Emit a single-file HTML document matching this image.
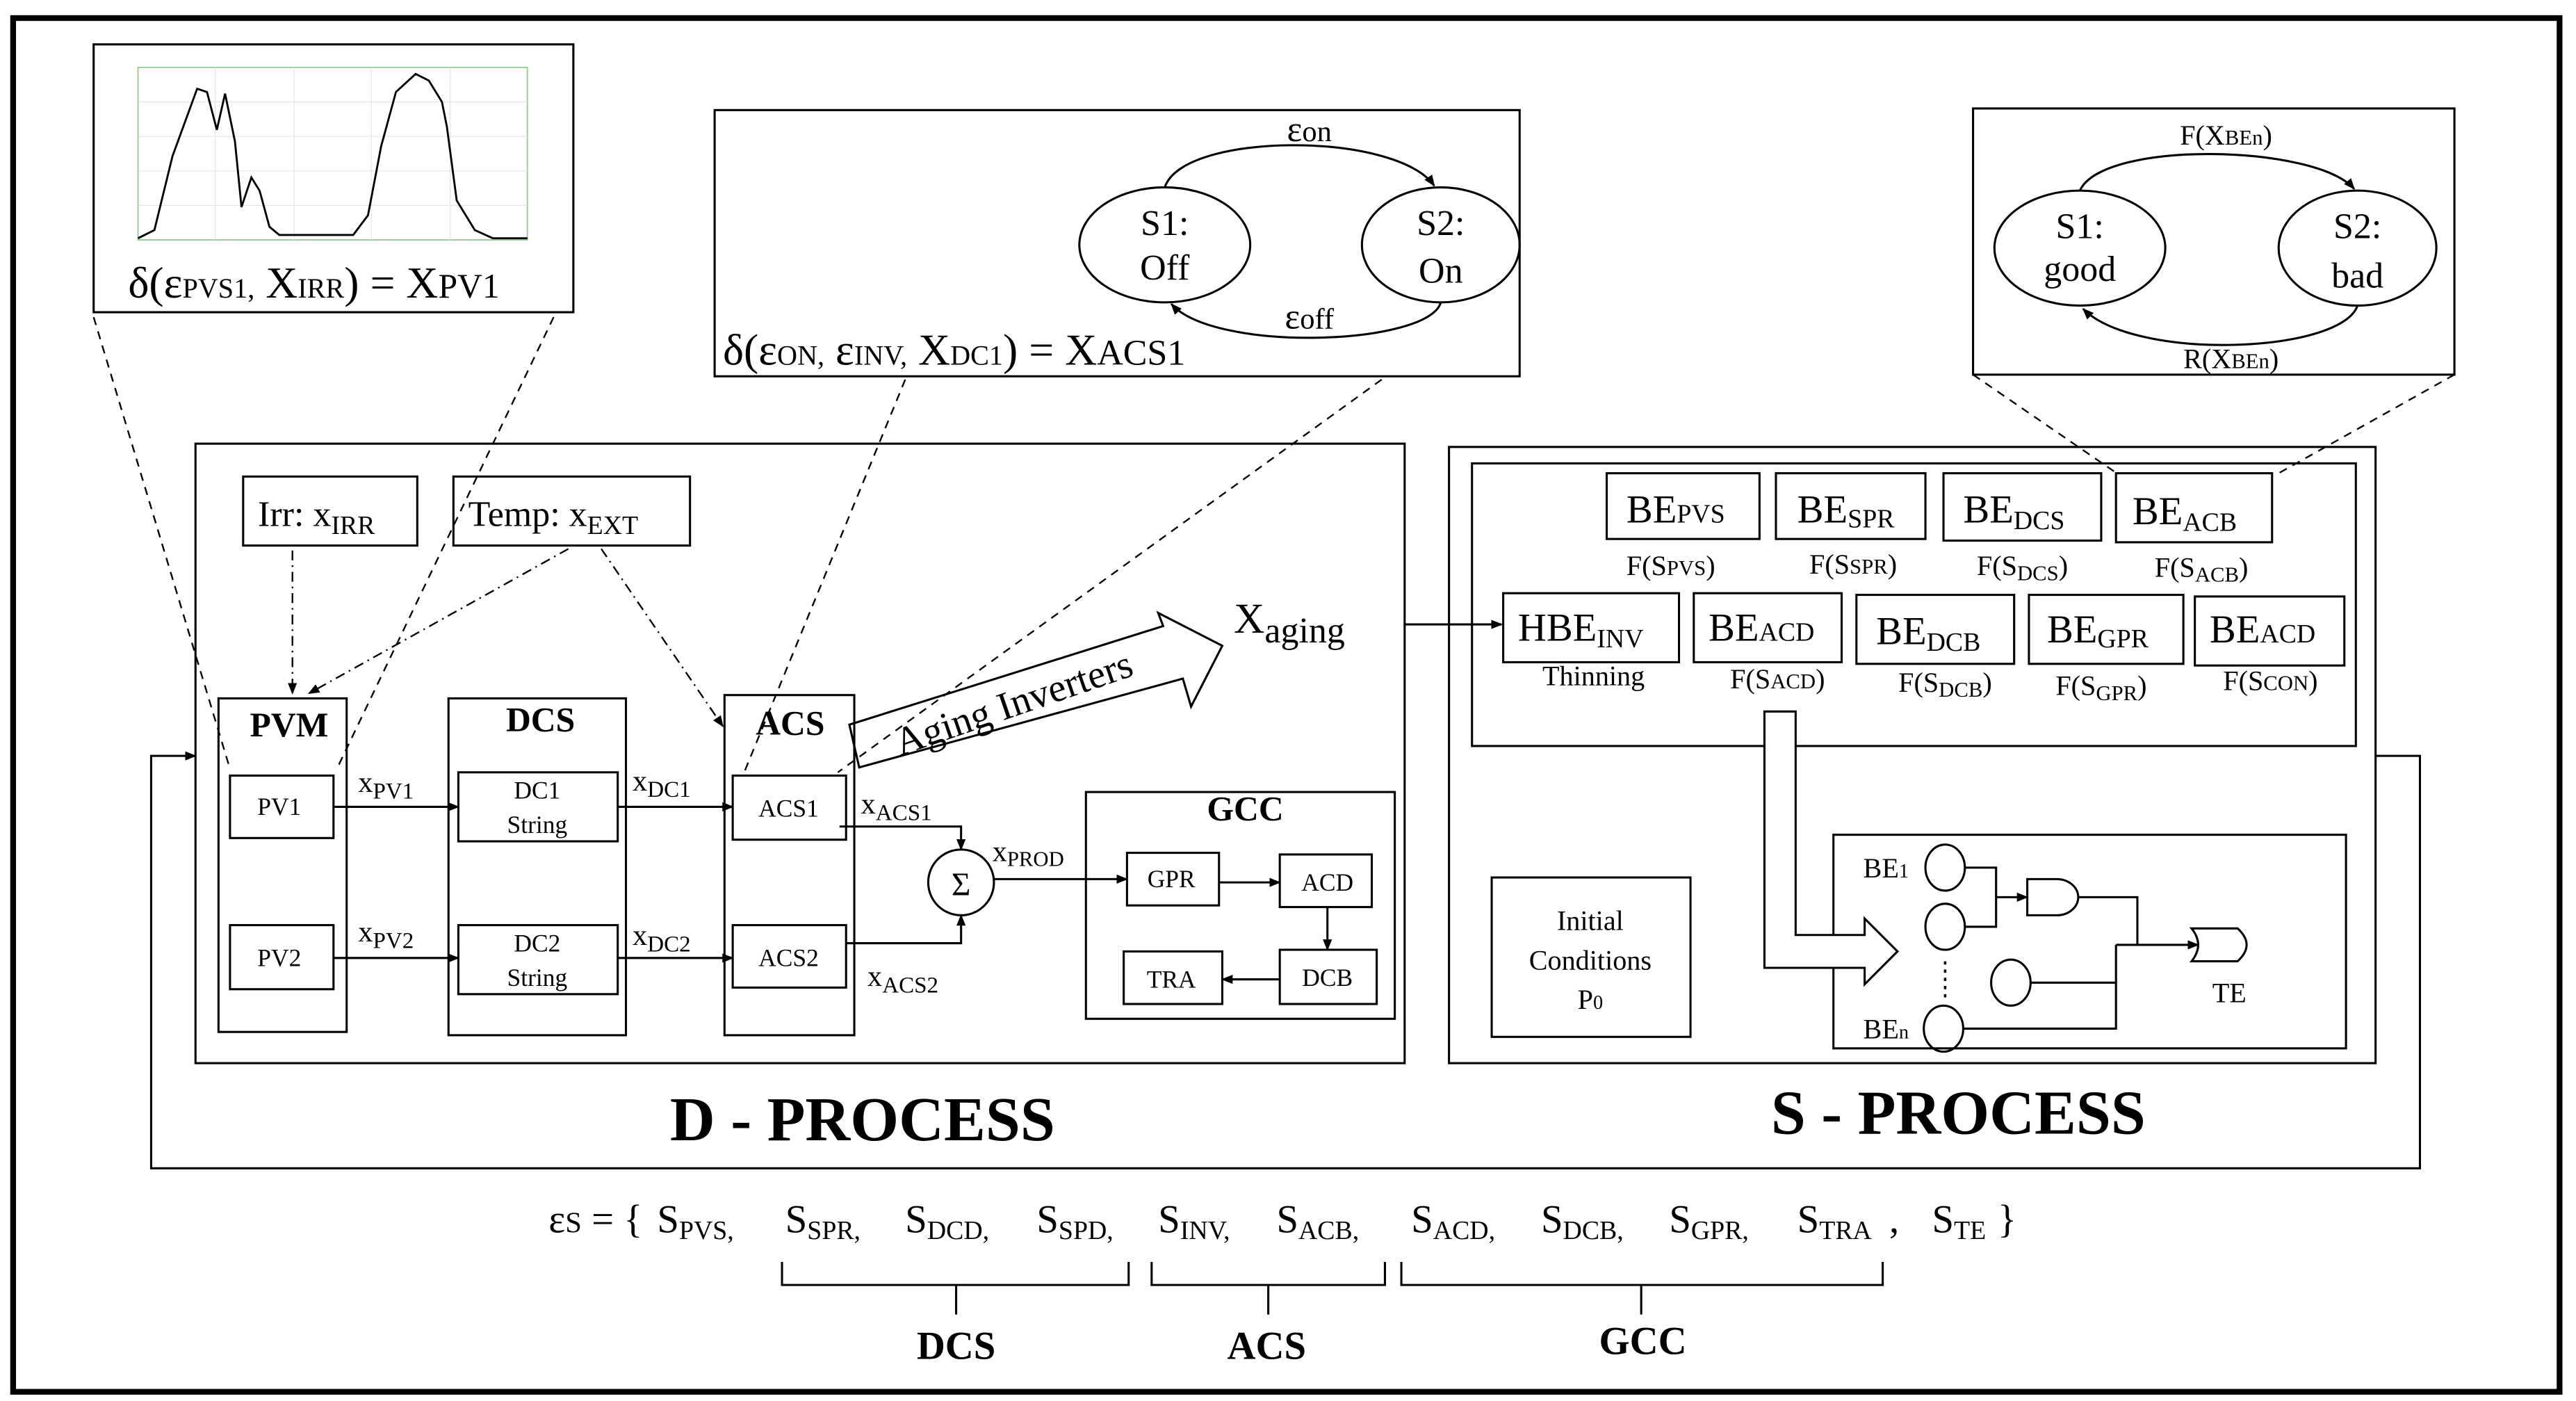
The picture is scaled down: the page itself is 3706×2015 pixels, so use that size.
<!DOCTYPE html>
<html><head><meta charset="utf-8"><style>
html,body{margin:0;padding:0;background:#fff;}
svg{display:block;}
text{font-family:"Liberation Serif","DejaVu Serif",serif;fill:#000;}
.b{font-weight:bold;}
</style></head><body>
<svg width="3706" height="2015" viewBox="0 0 1568 852.6" preserveAspectRatio="none" xmlns="http://www.w3.org/2000/svg" font-family="Liberation Serif, serif">
<defs>
<marker id="ar" viewBox="0 0 10 10" refX="9" refY="5" markerWidth="7" markerHeight="7" orient="auto-start-reverse" markerUnits="userSpaceOnUse"><path d="M0,1 L10,5 L0,9 z" fill="#000"/></marker>
</defs>
<g fill="none" stroke="#000" stroke-width="1.3">
<rect x="8" y="11" width="1550" height="836" stroke-width="3.5"/>
<rect x="57" y="27" width="292" height="163"/>
<rect x="84" y="41" width="237" height="105" stroke="#9c9" stroke-width="0.8"/>
<g stroke="#dde8dd" stroke-width="0.5">
<line x1="131" y1="41" x2="131" y2="146"/><line x1="179" y1="41" x2="179" y2="146"/><line x1="226" y1="41" x2="226" y2="146"/><line x1="274" y1="41" x2="274" y2="146"/>
<line x1="84" y1="62" x2="321" y2="62"/><line x1="84" y1="83" x2="321" y2="83"/><line x1="84" y1="104" x2="321" y2="104"/><line x1="84" y1="125" x2="321" y2="125"/>
</g>
<polyline points="84,145 94,140 105,95 120,54 126,56 132,79 137,57 143,86 147,126 153,108 158,116 164,138 170,143 215,143 224,131 232,89 241,56 253,45 261,49 269,62 272,77 278,122 289,140 300,145 321,145" stroke-width="1.2"/>
<rect x="435" y="67" width="490" height="162"/>
<ellipse cx="709" cy="149" rx="52" ry="35"/>
<ellipse cx="877" cy="149" rx="48" ry="35"/>
<path d="M709,114 C720,80 850,80 873,113" marker-end="url(#ar)"/>
<path d="M877,184 C870,210 740,215 713,185" marker-end="url(#ar)"/>
<rect x="1201" y="66" width="293" height="162"/>
<ellipse cx="1266" cy="151" rx="52" ry="35"/>
<ellipse cx="1435" cy="151" rx="48" ry="35"/>
<path d="M1266,116 C1280,85 1410,88 1433,115" marker-end="url(#ar)"/>
<path d="M1435,186 C1425,215 1300,220 1268,188" marker-end="url(#ar)"/>
<rect x="119" y="270" width="736" height="377"/>
<rect x="148" y="290" width="106" height="42"/>
<rect x="276" y="290" width="144" height="42"/>
<rect x="133" y="425" width="78" height="203"/>
<rect x="273" y="425" width="108" height="205"/>
<rect x="441" y="423" width="79" height="207"/>
<rect x="140" y="472" width="63" height="38"/>
<rect x="140" y="563" width="63" height="39"/>
<rect x="279" y="470" width="97" height="42"/>
<rect x="279" y="563" width="97" height="42"/>
<rect x="446" y="472" width="69" height="39"/>
<rect x="446" y="563" width="69" height="38"/>
<circle cx="585" cy="537" r="20"/>
<rect x="661" y="482" width="188" height="138"/>
<rect x="686" y="519" width="56" height="32"/>
<rect x="779" y="520" width="56" height="32"/>
<rect x="684" y="579" width="60" height="32"/>
<rect x="779" y="578" width="59" height="33"/>
<line x1="203" y1="491" x2="279" y2="491" marker-end="url(#ar)"/>
<line x1="203" y1="583" x2="279" y2="583" marker-end="url(#ar)"/>
<line x1="376" y1="491" x2="446" y2="491" marker-end="url(#ar)"/>
<line x1="376" y1="583" x2="446" y2="583" marker-end="url(#ar)"/>
<polyline points="511,503 585,503 585,517" marker-end="url(#ar)"/>
<polyline points="515,574 585,574 585,557" marker-end="url(#ar)"/>
<line x1="605" y1="535" x2="686" y2="535" marker-end="url(#ar)"/>
<line x1="742" y1="537" x2="779" y2="537" marker-end="url(#ar)"/>
<line x1="808" y1="552" x2="808" y2="578" marker-end="url(#ar)"/>
<line x1="779" y1="596" x2="744" y2="596" marker-end="url(#ar)"/>
<polygon points="517,441 708,381 705,373 744,393 725,430 720,413 523,467"/>
<line x1="855" y1="380" x2="914" y2="380" marker-end="url(#ar)"/>
<g stroke-dasharray="5,4" stroke-width="1">
<line x1="57" y1="193" x2="140" y2="468"/>
<line x1="337" y1="193" x2="205" y2="468"/>
<line x1="551" y1="231" x2="453" y2="470"/>
<line x1="841" y1="231" x2="510" y2="470"/>
<line x1="1201" y1="228" x2="1287" y2="287"/>
<line x1="1494" y1="228" x2="1387" y2="288"/>
</g>
<g stroke-dasharray="6,3,1,3" stroke-width="1">
<line x1="178" y1="335" x2="178" y2="422" marker-end="url(#ar)"/>
<line x1="346" y1="334" x2="188" y2="422" marker-end="url(#ar)"/>
<line x1="366" y1="334" x2="440" y2="442" marker-end="url(#ar)"/>
</g>
<rect x="882" y="272" width="564" height="375"/>
<rect x="896" y="282" width="538" height="172"/>
<rect x="978" y="288" width="93" height="40"/>
<rect x="1081" y="288" width="91" height="40"/>
<rect x="1183" y="288" width="96" height="41"/>
<rect x="1288" y="288" width="95" height="42"/>
<rect x="915" y="361" width="107" height="42"/>
<rect x="1031" y="361" width="90" height="42"/>
<rect x="1130" y="362" width="96" height="42"/>
<rect x="1235" y="362" width="94" height="42"/>
<rect x="1336" y="363" width="91" height="42"/>
<rect x="1116" y="508" width="312" height="130"/>
<rect x="908" y="534" width="121" height="97"/>
<polygon points="1074,433 1093,433 1093,569 1135,569 1135,559 1155,579 1135,599 1135,589 1074,589" fill="#fff"/>
<ellipse cx="1184" cy="528" rx="12" ry="14"/>
<ellipse cx="1184" cy="564" rx="12" ry="14"/>
<ellipse cx="1224" cy="598" rx="12" ry="14"/>
<ellipse cx="1183" cy="626" rx="12" ry="14"/>
<line x1="1184" y1="585" x2="1184" y2="610" stroke-dasharray="2,3" stroke-width="1.5"/>
<polyline points="1196,528 1215,528 1215,564 1196,564"/>
<line x1="1215" y1="546" x2="1234" y2="546" marker-end="url(#ar)"/>
<path d="M1234,535 L1252,535 A13,11 0 0 1 1252,557 L1234,557 Z"/>
<polyline points="1265,546 1301,546 1301,575"/>
<line x1="1288" y1="575" x2="1338" y2="575" marker-end="url(#ar)"/>
<path d="M1334,565 L1362,565 Q1373,575 1362,585 L1334,585 Q1342,575 1334,565 Z"/>
<polyline points="1236,598 1288,598"/>
<polyline points="1195,626 1288,626 1288,575"/>
<polyline points="1446,460 1473,460 1473,711 92,711 92,460 119,460" marker-end="url(#ar)"/>
<path d="M476,768 L476,782 L687,782 L687,768 M582,782 L582,800"/>
<path d="M701,768 L701,782 L843,782 L843,768 M772,782 L772,800"/>
<path d="M853,768 L853,782 L1146,782 L1146,768 M999,782 L999,800"/>
</g>
<g font-size="27">
<text x="78" y="181">δ(ε<tspan font-size="17">PVS1,</tspan> X<tspan font-size="17">IRR</tspan>) = X<tspan font-size="21">PV1</tspan></text>
<text x="440" y="222">δ(ε<tspan font-size="17">ON,</tspan> ε<tspan font-size="17">INV,</tspan> X<tspan font-size="17">DC1</tspan>) = X<tspan font-size="22">ACS1</tspan></text>
</g>
<g font-size="22" text-anchor="middle">
<text x="797" y="86">ε<tspan font-size="18">on</tspan></text>
<text x="797" y="200">ε<tspan font-size="18">off</tspan></text>
<text x="709" y="143">S1:</text><text x="709" y="170">Off</text>
<text x="877" y="143">S2:</text><text x="877" y="172">On</text>
<text x="1266" y="145">S1:</text><text x="1266" y="171">good</text>
<text x="1435" y="145">S2:</text><text x="1435" y="175">bad</text>
</g>
<g font-size="17" text-anchor="middle">
<text x="1355" y="88">F(X<tspan font-size="13">BEn</tspan>)</text>
<text x="1358" y="224">R(X<tspan font-size="13">BEn</tspan>)</text>
</g>
<g font-size="22">
<text x="157" y="320">Irr: x<tspan font-size="16" dy="5">IRR</tspan></text>
<text x="285" y="320">Temp: x<tspan font-size="16" dy="5">EXT</tspan></text>
</g>
<g font-size="21" text-anchor="middle">
<text x="176" y="448" class="b">PVM</text>
<text x="329" y="445" class="b">DCS</text>
<text x="481" y="447" class="b">ACS</text>
<text x="758" y="499" class="b">GCC</text>
</g>
<g font-size="15" text-anchor="middle">
<text x="170" y="496">PV1</text><text x="170" y="588">PV2</text>
<text x="327" y="486">DC1</text><text x="327" y="507">String</text>
<text x="327" y="579">DC2</text><text x="327" y="600">String</text>
<text x="480" y="497">ACS1</text><text x="480" y="588">ACS2</text>
<text x="713" y="540">GPR</text><text x="808" y="542">ACD</text>
<text x="713" y="601">TRA</text><text x="808" y="600">DCB</text>
</g>
<text x="585" y="545" font-size="20" text-anchor="middle">Σ</text>
<g font-size="18">
<text x="218" y="482">x<tspan font-size="14" dy="4">PV1</tspan></text>
<text x="218" y="573">x<tspan font-size="14" dy="4">PV2</tspan></text>
<text x="385" y="481">x<tspan font-size="14" dy="4">DC1</tspan></text>
<text x="385" y="575">x<tspan font-size="14" dy="4">DC2</tspan></text>
<text x="524" y="495">x<tspan font-size="14" dy="4">ACS1</tspan></text>
<text x="528" y="600">x<tspan font-size="14" dy="4">ACS2</tspan></text>
<text x="604" y="524">x<tspan font-size="13" dy="3">PROD</tspan></text>
</g>
<text x="0" y="0" font-size="24" transform="translate(548,460) rotate(-19)">Aging Inverters</text>
<text x="751" y="385" font-size="26">X<tspan font-size="22" dy="6">aging</tspan></text>
<g font-size="24">
<text x="990" y="318">BE<tspan font-size="16">PVS</tspan></text>
<text x="1094" y="318">BE<tspan font-size="16" dy="3">SPR</tspan></text>
<text x="1195" y="318">BE<tspan font-size="16" dy="4">DCS</tspan></text>
<text x="1298" y="319">BE<tspan font-size="16" dy="4">ACB</tspan></text>
<text x="924" y="390">HBE<tspan font-size="16" dy="4">INV</tspan></text>
<text x="1040" y="390">BE<tspan font-size="16">ACD</tspan></text>
<text x="1142" y="392">BE<tspan font-size="16" dy="4">DCB</tspan></text>
<text x="1246" y="391">BE<tspan font-size="16" dy="3">GPR</tspan></text>
<text x="1345" y="391">BE<tspan font-size="16">ACD</tspan></text>
</g>
<g font-size="17" text-anchor="middle">
<text x="1017" y="350">F(S<tspan font-size="13">PVS</tspan>)</text>
<text x="1128" y="349">F(S<tspan font-size="13">SPR</tspan>)</text>
<text x="1231" y="350">F(S<tspan font-size="13" dy="3">DCS</tspan><tspan dy="-3">)</tspan></text>
<text x="1340" y="351">F(S<tspan font-size="13" dy="3">ACB</tspan><tspan dy="-3">)</tspan></text>
<text x="970" y="417">Thinning</text>
<text x="1082" y="419">F(S<tspan font-size="13">ACD</tspan>)</text>
<text x="1184" y="421">F(S<tspan font-size="13" dy="3">DCB</tspan><tspan dy="-3">)</tspan></text>
<text x="1279" y="423">F(S<tspan font-size="13" dy="3">GPR</tspan><tspan dy="-3">)</tspan></text>
<text x="1382" y="420">F(S<tspan font-size="13">CON</tspan>)</text>
<text x="968" y="566">Initial</text>
<text x="968" y="590">Conditions</text>
<text x="968" y="614">P<tspan font-size="12">0</tspan></text>
<text x="1148" y="534">BE<tspan font-size="12">1</tspan></text>
<text x="1148" y="632">BE<tspan font-size="12">n</tspan></text>
<text x="1357" y="610">TE</text>
</g>
<text x="525" y="694" font-size="38" class="b" text-anchor="middle">D - PROCESS</text>
<text x="1192" y="690" font-size="38" class="b" text-anchor="middle">S - PROCESS</text>
<g font-size="24">
<text x="334" y="750">ε<tspan font-size="18">S</tspan> = {</text>
<text x="400" y="750">S<tspan font-size="16" dy="4">PVS,</tspan></text>
<text x="478" y="750">S<tspan font-size="16" dy="4">SPR,</tspan></text>
<text x="551" y="750">S<tspan font-size="16" dy="4">DCD,</tspan></text>
<text x="631" y="750">S<tspan font-size="16" dy="4">SPD,</tspan></text>
<text x="705" y="750">S<tspan font-size="16" dy="4">INV,</tspan></text>
<text x="777" y="750">S<tspan font-size="16" dy="4">ACB,</tspan></text>
<text x="859" y="750">S<tspan font-size="16" dy="4">ACD,</tspan></text>
<text x="938" y="750">S<tspan font-size="16" dy="4">DCB,</tspan></text>
<text x="1016" y="750">S<tspan font-size="16" dy="4">GPR,</tspan></text>
<text x="1094" y="750">S<tspan font-size="16" dy="4">TRA</tspan></text>
<text x="1150" y="750">,</text>
<text x="1176" y="750">S<tspan font-size="16" dy="4">TE</tspan></text>
<text x="1216" y="750">}</text>
</g>
<g font-size="24" text-anchor="middle">
<text x="582" y="827" class="b">DCS</text>
<text x="771" y="827" class="b">ACS</text>
<text x="1000" y="824" class="b">GCC</text>
</g>
</svg>
</body></html>
